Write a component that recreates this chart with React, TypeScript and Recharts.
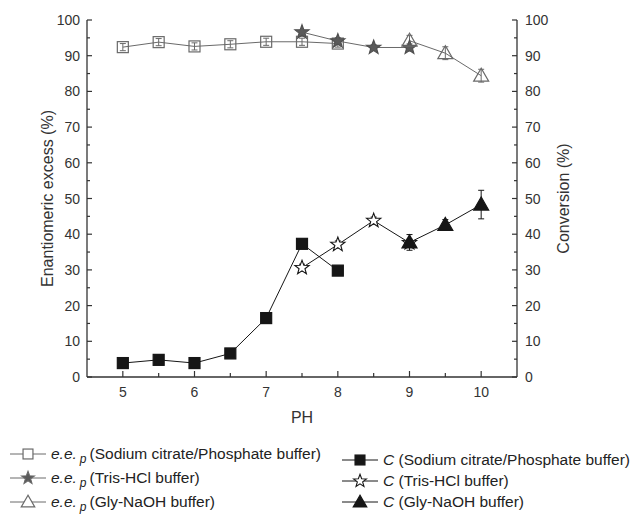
import { LineChart, Line, XAxis, YAxis, ErrorBar } from "recharts"

// pH ticks and percentage ticks
const phTicks = [5, 5.5, 6, 6.5, 7, 7.5, 8, 8.5, 9, 9.5, 10]
const pctTicks = [0, 5, 10, 15, 20, 25, 30, 35, 40, 45, 50, 55, 60, 65, 70, 75, 80, 85, 90, 95, 100]

// e.e.p series
const eeSodiumPh = [5, 5.5, 6, 6.5, 7, 7.5, 8]
const eeSodium = [92.4, 93.8, 92.6, 93.2, 93.9, 93.9, 93.4]
const eeSodiumErr = [1, 1, 1, 1, 1, 1, 1]

const eeTrisPh = [7.5, 8, 8.5, 9]
const eeTris = [96.6, 94.1, 92.3, 92.3]
const eeTrisErr = [0.5, 1, 0.8, 1]

const eeGlyPh = [9, 9.5, 10]
const eeGly = [94.2, 90.7, 84.4]
const eeGlyErr = [1.5, 1.8, 1.8]

// conversion series
const cSodiumPh = [5, 5.5, 6, 6.5, 7, 7.5, 8]
const cSodium = [3.9, 4.8, 3.9, 6.6, 16.5, 37.3, 29.8]
const cSodiumErr = [0.4, 0.4, 0.4, 0.4, 0.5, 0.5, 0.5]

const cTrisPh = [7.5, 8, 8.5, 9]
const cTris = [30.6, 37.1, 43.8, 37.6]
const cTrisErr = [1, 1, 1, 1]

const cGlyPh = [9, 9.5, 10]
const cGly = [37.7, 42.6, 48.3]
const cGlyErr = [2.2, 1.5, 4]

const build = (xs: number[], ys: number[], errs: number[]) =>
  xs.map((ph, i) => ({ ph, value: ys[i], err: errs[i] }))

const FONT = '"Liberation Sans", Arial, sans-serif'
const AXIS = "#333"
const GRAY = "#6a6a6a"
const BLACK = "#161616"

type MarkerProps = {
  kind: "square" | "star" | "triangle"
  cx: number
  cy: number
  stroke: string
  fill: string
  scale?: number
}

function Marker({ kind, cx, cy, stroke, fill, scale = 1 }: MarkerProps) {
  if (kind === "square") {
    const h = 5.5 * scale
    return <rect x={cx - h} y={cy - h} width={h * 2} height={h * 2} stroke={stroke} fill={fill} strokeWidth={1.2} />
  }
  if (kind === "triangle") {
    const s = 7.5 * scale
    const pts = `${cx},${cy - s} ${cx - s},${cy + s * 0.73} ${cx + s},${cy + s * 0.73}`
    return <polygon points={pts} stroke={stroke} fill={fill} strokeWidth={1.2} />
  }
  const pts: string[] = []
  for (let i = 0; i < 10; i++) {
    const r = (i % 2 === 0 ? 7.5 : 3.1) * scale
    const a = -Math.PI / 2 + (i * Math.PI) / 5
    pts.push(`${cx + r * Math.cos(a)},${cy + r * Math.sin(a)}`)
  }
  return <polygon points={pts.join(" ")} stroke={stroke} fill={fill} strokeWidth={1.1} />
}

const dotOf = (kind: MarkerProps["kind"], stroke: string, fill: string) => (p: any) => (
  <g key={`${kind}-${stroke}-${p.index}`}>
    <Marker kind={kind} cx={p.cx} cy={p.cy} stroke={stroke} fill={fill} />
  </g>
)

const LeftTick = (props: any) => {
  const { x, y, payload } = props
  const major = payload.value % 10 === 0
  return (
    <g>
      <line x1={x} x2={x + (major ? 5 : 3)} y1={y} y2={y} stroke={AXIS} strokeWidth={1.2} />
      {major && (
        <text x={x - 7} y={y} textAnchor="end" dominantBaseline="central" fontSize={14} fill={AXIS} fontFamily={FONT}>
          {payload.value}
        </text>
      )}
    </g>
  )
}

const RightTick = (props: any) => {
  const { x, y, payload } = props
  const major = payload.value % 10 === 0
  return (
    <g>
      <line x1={x} x2={x - (major ? 5 : 3)} y1={y} y2={y} stroke={AXIS} strokeWidth={1.2} />
      {major && (
        <text x={x + 8} y={y} textAnchor="start" dominantBaseline="central" fontSize={14} fill={AXIS} fontFamily={FONT}>
          {payload.value}
        </text>
      )}
    </g>
  )
}

const BottomTick = (props: any) => {
  const { x, y, payload } = props
  const major = Number.isInteger(payload.value)
  return (
    <g>
      <line x1={x} x2={x} y1={y} y2={y - (major ? 6 : 4)} stroke={AXIS} strokeWidth={1.2} />
      {major && (
        <text x={x} y={y + 15} textAnchor="middle" dominantBaseline="central" fontSize={14} fill={AXIS} fontFamily={FONT}>
          {payload.value}
        </text>
      )}
    </g>
  )
}

const leftTitle = (props: any) => {
  const vb = props.viewBox
  const cx = 47
  const cy = vb.y + vb.height / 2
  return (
    <text x={cx} y={cy} transform={`rotate(-90 ${cx} ${cy})`} textAnchor="middle" dominantBaseline="central" fontSize={16} fill={AXIS} fontFamily={FONT}>
      Enantiomeric excess (%)
    </text>
  )
}

const rightTitle = (props: any) => {
  const vb = props.viewBox
  const cx = 563
  const cy = vb.y + vb.height / 2
  return (
    <text x={cx} y={cy} transform={`rotate(-90 ${cx} ${cy})`} textAnchor="middle" dominantBaseline="central" fontSize={16} fill={AXIS} fontFamily={FONT}>
      Conversion (%)
    </text>
  )
}

const bottomTitle = (props: any) => {
  const vb = props.viewBox
  return (
    <text x={vb.x + vb.width / 2} y={417} textAnchor="middle" dominantBaseline="central" fontSize={16} fill={AXIS} fontFamily={FONT}>
      PH
    </text>
  )
}

function LegendRow({ left, top, kind, stroke, fill, children }: any) {
  return (
    <div style={{ position: "absolute", left, top: top - 11, height: 22, display: "flex", alignItems: "center", whiteSpace: "nowrap", fontFamily: FONT, fontSize: 15.5, color: "#222" }}>
      <svg width={36} height={22}>
        <line x1={0} x2={36} y1={11} y2={11} stroke={stroke === GRAY ? GRAY : BLACK} strokeWidth={1} />
        <Marker kind={kind} cx={18} cy={11} stroke={stroke} fill={fill} scale={0.9} />
      </svg>
      <span style={{ marginLeft: 5 }}>{children}</span>
    </div>
  )
}

const EE = () => (
  <>
    <i>e.e.</i>
    <i style={{ fontSize: 12, position: "relative", top: 4, margin: "0 3px 0 3px" }}>p</i>
  </>
)

export default function App() {
  return (
    <div style={{ position: "absolute", left: 0, top: 0, width: 640, height: 515, background: "#fff" }}>
      <LineChart width={640} height={515} margin={{ top: 20, right: 0, bottom: 0, left: 0 }}>
        <XAxis
          dataKey="ph"
          type="number"
          domain={[4.5, 10.5]}
          ticks={phTicks}
          interval={0}
          height={138}
          tickSize={0}
          tickMargin={0}
          tick={BottomTick}
          tickLine={false}
          axisLine={{ stroke: AXIS, strokeWidth: 1.3 }}
          label={bottomTitle}
        />
        <YAxis
          yAxisId="left"
          domain={[0, 100]}
          ticks={pctTicks}
          interval={0}
          width={87}
          tickSize={0}
          tickMargin={0}
          tick={LeftTick}
          tickLine={false}
          axisLine={{ stroke: AXIS, strokeWidth: 1.3 }}
          label={leftTitle}
        />
        <YAxis
          yAxisId="right"
          orientation="right"
          domain={[0, 100]}
          ticks={pctTicks}
          interval={0}
          width={123}
          tickSize={0}
          tickMargin={0}
          tick={RightTick}
          tickLine={false}
          axisLine={{ stroke: AXIS, strokeWidth: 1.3 }}
          label={rightTitle}
        />

        <Line yAxisId="left" data={build(eeSodiumPh, eeSodium, eeSodiumErr)} dataKey="value" stroke={GRAY} strokeWidth={1} dot={dotOf("square", GRAY, "none")} isAnimationActive={false}>
          <ErrorBar dataKey="err" width={3} stroke={GRAY} strokeWidth={1} />
        </Line>
        <Line yAxisId="left" data={build(eeTrisPh, eeTris, eeTrisErr)} dataKey="value" stroke={GRAY} strokeWidth={1} dot={dotOf("star", "#4f4f4f", "#5a5a5a")} isAnimationActive={false}>
          <ErrorBar dataKey="err" width={3} stroke={GRAY} strokeWidth={1} />
        </Line>
        <Line yAxisId="left" data={build(eeGlyPh, eeGly, eeGlyErr)} dataKey="value" stroke={GRAY} strokeWidth={1} dot={dotOf("triangle", GRAY, "none")} isAnimationActive={false}>
          <ErrorBar dataKey="err" width={3} stroke={GRAY} strokeWidth={1} />
        </Line>

        <Line yAxisId="right" data={build(cSodiumPh, cSodium, cSodiumErr)} dataKey="value" stroke={BLACK} strokeWidth={1} dot={dotOf("square", BLACK, BLACK)} isAnimationActive={false}>
          <ErrorBar dataKey="err" width={3} stroke={BLACK} strokeWidth={1} />
        </Line>
        <Line yAxisId="right" data={build(cTrisPh, cTris, cTrisErr)} dataKey="value" stroke={BLACK} strokeWidth={1} dot={dotOf("star", BLACK, "#fff")} isAnimationActive={false}>
          <ErrorBar dataKey="err" width={3} stroke={BLACK} strokeWidth={1} />
        </Line>
        <Line yAxisId="right" data={build(cGlyPh, cGly, cGlyErr)} dataKey="value" stroke={BLACK} strokeWidth={1} dot={dotOf("triangle", BLACK, BLACK)} isAnimationActive={false}>
          <ErrorBar dataKey="err" width={3} stroke={BLACK} strokeWidth={1} />
        </Line>
      </LineChart>

      <LegendRow left={10} top={454} kind="square" stroke={GRAY} fill="#fff">
        <EE />(Sodium citrate/Phosphate buffer)
      </LegendRow>
      <LegendRow left={10} top={478} kind="star" stroke={GRAY} fill="#5a5a5a">
        <EE />(Tris-HCl buffer)
      </LegendRow>
      <LegendRow left={10} top={502} kind="triangle" stroke={GRAY} fill="#fff">
        <EE />(Gly-NaOH buffer)
      </LegendRow>

      <LegendRow left={342} top={460} kind="square" stroke={BLACK} fill={BLACK}>
        <i>C</i> (Sodium citrate/Phosphate buffer)
      </LegendRow>
      <LegendRow left={342} top={481} kind="star" stroke={BLACK} fill="#fff">
        <i>C</i> (Tris-HCl buffer)
      </LegendRow>
      <LegendRow left={342} top={502} kind="triangle" stroke={BLACK} fill={BLACK}>
        <i>C</i> (Gly-NaOH buffer)
      </LegendRow>
    </div>
  )
}
